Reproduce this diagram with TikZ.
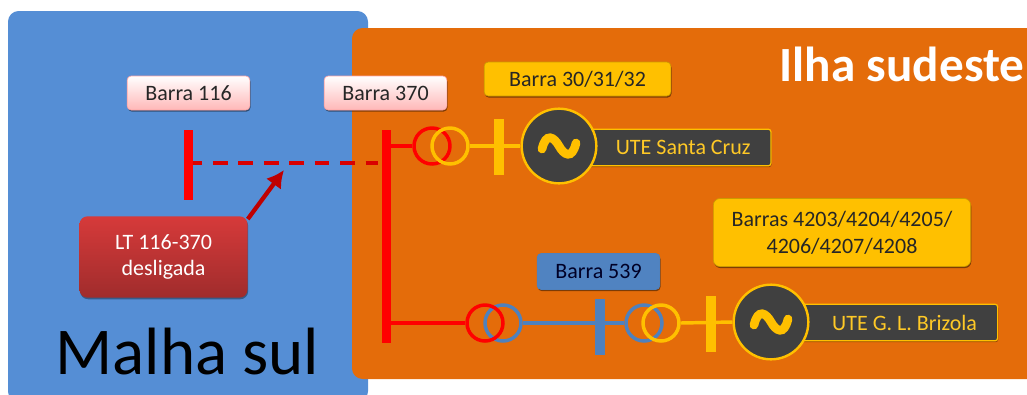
\documentclass[tikz,border=0pt]{standalone}
\usepackage{fontspec}
\setmainfont{Carlito}
\usetikzlibrary{shadows,calc,arrows.meta}
\definecolor{bluebg}{HTML}{558ED5}
\definecolor{orangebg}{HTML}{E46C0A}
\definecolor{yel}{HTML}{FFC000}
\definecolor{steel}{HTML}{4F81BD}
\definecolor{darkbox}{HTML}{404040}
\definecolor{lttop}{HTML}{D63A3A}
\definecolor{ltbot}{HTML}{A02C2C}
\tikzset{
  x=0.75pt,y=-0.75pt,
  txt/.style={font=\fontsize{16.5}{20}\selectfont,align=center,inner sep=0pt},
  lab/.style={txt,rounded corners=3pt,minimum height=25.5pt,text=black!85,
    drop shadow={shadow xshift=0.5pt,shadow yshift=-1.2pt,opacity=.45,fill=black}},
  pinklab/.style={lab,draw=red!35!white,line width=.5pt,top color=white,bottom color=red!28!white,minimum width=92pt},
  yellab/.style={lab,fill=yel,draw=yel!80!black,line width=.5pt},
  bluelab/.style={lab,fill=steel!85!bluebg,draw=steel,line width=.5pt,text=black!85!blue},
  utelab/.style={txt,fill=darkbox,draw=yel,line width=.9pt,rounded corners=2pt,text=yel!85!white,minimum height=27.5pt,
    drop shadow={shadow xshift=0.5pt,shadow yshift=-1pt,opacity=.35,fill=black}},
  gen/.style={circle,fill=darkbox,draw=yel,line width=1.8pt,minimum size=56pt,inner sep=0pt},
  wind/.style={circle,draw=#1,line width=2.6pt,minimum size=27pt,inner sep=0pt},
  barbox/.style={fill=#1,inner sep=0pt,minimum width=7pt},
  link/.style={draw=#1,line width=2.6pt},
  tilde/.style={yel,line width=6.5pt,line cap=round}
}
\begin{document}
\begin{tikzpicture}
\useasboundingbox (0,0) rectangle (1027,394);
\begin{scope}
\clip (0,0) rectangle (1027,394);
\fill[bluebg,rounded corners=8pt] (8,11) rectangle (368,402);
\fill[orangebg,rounded corners=8pt] (352,28) rectangle (1050,379);
\end{scope}

\node[anchor=base,font=\fontsize{50.2}{55}\selectfont,text=black,inner sep=0pt] (malha) at (187.5,374) {Malha sul};
\node[anchor=base,font=\fontsize{36.9}{40}\selectfont\bfseries,text=white,inner sep=0pt] (ilha) at (902,81) {Ilha sudeste};

\node[pinklab] (l116) at (188.5,93) {Barra 116};
\node[pinklab] (l370) at (385.5,93) {Barra 370};
\node[yellab,minimum width=140pt] (l30) at (577.5,79) {Barra 30/31/32};
\node[yellab,minimum width=193pt,minimum height=51pt,rounded corners=5pt] (l42) at (842,232.5) {Barras 4203/4204/4205/\\4206/4207/4208};
\node[bluelab,minimum width=92pt,minimum height=27pt] (l539) at (598.5,271.5) {Barra 539};

% bars
\node[barbox=red,minimum height=52.5pt] (b116) at (188.5,165) {};
\node[barbox=red,minimum height=160pt] (b370) at (386.5,236.5) {};
\node[barbox=yel,minimum height=42pt] (b30) at (499,147) {};
\node[barbox=steel,minimum height=42pt] (b539) at (600,327) {};
\node[barbox=yel,minimum height=42pt] (b42) at (711,324) {};

% UTE labels (behind generators)
\node[utelab,minimum width=139pt,anchor=west] (ute1) at (585,147.5) {\hspace*{7.5pt}UTE Santa Cruz};
\node[utelab,minimum width=150pt,anchor=west] (ute2) at (797,322.5) {\hspace*{10.5pt}UTE G. L. Brizola};

% generators
\node[gen] (g1) at (559,146) {};
\node[gen] (g2) at (771,322) {};
\draw[tilde] (542,149) .. controls (546,132) and (554,137) .. (559,146) .. controls (564,155) and (572,160) .. (576,143);
\draw[tilde] (754,325) .. controls (758,308) and (766,313) .. (771,322) .. controls (776,331) and (784,336) .. (788,319);

% transformer windings
\node[wind=red] (t1a) at (432,146) {};
\node[wind=yel] (t1b) at (450,146) {};
\node[wind=steel] (t2b) at (503,323) {};
\node[wind=red] (t2a) at (485,323) {};
\node[wind=steel] (t3a) at (644,323) {};
\node[wind=yel] (t3b) at (661,323) {};

% connectors
\draw[link=red] (b370.east |- t1a.west) -- (t1a.west);
\draw[link=yel] (t1b.east) -- (g1.west);
\draw[link=red] (b370.east |- t2a.west) -- (t2a.west);
\draw[link=steel] (t2b.east) -- (t3a.west);
\draw[link=yel] (t3b.east) -- (g2.west);
\draw[draw=red!85!black,line width=2.6pt,dash pattern=on 11pt off 8.1pt,dash phase=4.5pt] (b116.east |- 0,163) -- ($(b370.west |- 0,163)+(-4,0)$);

\node[txt,rounded corners=6pt,minimum width=126pt,minimum height=61pt,top color=lttop,bottom color=ltbot,text=white,
  drop shadow={shadow xshift=0.5pt,shadow yshift=-1.2pt,opacity=.35,fill=black}] (lt) at (163.5,257) {LT 116-370\\desligada};

\coordinate (tip) at (284,170);
\draw[-{Latex[length=13pt,width=14pt]},draw=red!75!black,fill=red!75!black,line width=3.2pt] (lt.north east) ++(0,3) -- (tip);
\end{tikzpicture}
\end{document}
